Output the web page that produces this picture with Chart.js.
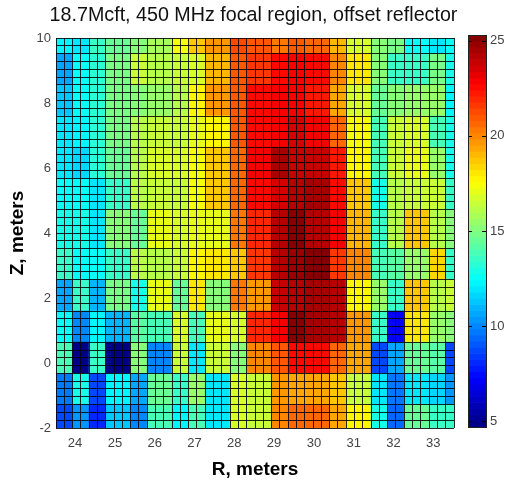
<!DOCTYPE html>
<html>
<head>
<meta charset="utf-8">
<title>focal region</title>
<script src="https://cdn.jsdelivr.net/npm/chart.js@4"></script>
<style>
  body { margin: 0; background: #fff; }
  canvas { position: absolute; top: 0; }
  #fieldChart { left: 0; }
  #barChart { left: 460px; }
</style>
</head>
<body>
<canvas id="fieldChart" width="507" height="482"></canvas>
<canvas id="barChart" width="47" height="482"></canvas>
<script>
const rTicks = [24, 25, 26, 27, 28, 29, 30, 31, 32, 33];
const zTicks = [-2, 0, 2, 4, 6, 8, 10];
const barTicks = [5, 10, 15, 20, 25];

// each z level, 21 samples along R
const valuesZ10 = [12.3, 11.9, 13.4, 14.6, 15.3, 15.9, 17.4, 18.7, 19.7, 21.2, 21, 20.3, 21, 20.6, 19, 16.8, 15, 14.7, 12.6, 11.8, 12.7];
const valuesZ9 = [10.5, 12.7, 13.2, 14.7, 16.6, 16.2, 16.4, 16.7, 19, 20.8, 21.5, 22.5, 23, 22.5, 20, 18, 15.2, 13.5, 13.4, 14.8, 13];
const valuesZ8 = [11.3, 12.5, 13.2, 14.7, 15.3, 15.5, 16.2, 17.6, 19.6, 21, 22.5, 23, 22.8, 22.4, 19.3, 16.7, 14.5, 15, 15.5, 15.5, 12.2];
const valuesZ7 = [12, 12.4, 13.3, 14.7, 16.2, 16.4, 16.5, 17, 17.8, 20.8, 22.7, 23, 23.5, 23, 20.6, 17.4, 14, 16.6, 16.8, 13.8, 13];
const valuesZ6 = [12.1, 11.6, 13.3, 14.5, 16.2, 16.7, 16.8, 17.3, 18.7, 20.6, 22.8, 24.5, 23.7, 24, 22.3, 17.6, 13.8, 16.6, 17.2, 15.5, 13];
const valuesZ5 = [12.6, 12.6, 12, 13.6, 16, 16.3, 16.5, 17.5, 18.8, 20.5, 22.6, 23.5, 24.2, 24.5, 22.7, 18.6, 13, 16, 16.5, 16.5, 13.5];
const valuesZ4 = [12.8, 13, 12, 15, 14.6, 17, 16.8, 17.2, 17, 20.2, 21.8, 24.3, 25.2, 24.3, 23, 19, 13.5, 16, 18.8, 16, 15];
const valuesZ3 = [13.5, 12.6, 12.6, 13.6, 16, 16.2, 16.6, 17.6, 18, 18.8, 21.5, 24.2, 24.8, 25.2, 21.6, 20, 13.8, 14.2, 15.6, 18.5, 13.6];
const valuesZ2 = [10.8, 13.6, 11, 14.8, 13, 17, 14.5, 18, 15, 20.2, 19.7, 24, 24.3, 24.4, 24.3, 17.7, 15.4, 13.6, 18.7, 16, 16.5];
const valuesZ1 = [12.6, 9.9, 12.4, 10.9, 14.3, 14, 16.9, 13.9, 17.2, 16.7, 22, 23, 25, 24.5, 24.2, 19.8, 13.6, 7.2, 18, 15.6, 15.3];
const valuesZ0 = [14, 4.9, 13.5, 4.9, 15.3, 9.9, 16.6, 12, 16.6, 15, 20, 20.8, 22.5, 22.6, 20.7, 19.5, 8.8, 10.5, 14.6, 14.2, 8.8];
const valuesZm1 = [9.6, 13, 8.7, 12.2, 10.8, 14.5, 13.5, 15.6, 12, 16.8, 16.6, 19.7, 19.3, 19.3, 18.7, 16.5, 12, 9.7, 11.8, 11.7, 10.4];
const valuesZm2 = [8.6, 10.3, 8.2, 11.3, 9.9, 13.8, 12.2, 14, 11.9, 16.7, 16.5, 20, 20.5, 20.5, 19.5, 17.6, 12.8, 9.5, 14.5, 13.7, 13.4];

// how many drawn cells each sample covers
const rRepeats = [2, 2, 2, 3, 2, 3, 2, 2, 3, 2, 3, 2, 2, 3, 2, 3, 2, 2, 3, 2, 1];
const zRepeats = [2, 4, 4, 4, 4, 4, 5, 4, 4, 4, 4, 4, 3];

const zLevels = [valuesZ10, valuesZ9, valuesZ8, valuesZ7, valuesZ6, valuesZ5, valuesZ4, valuesZ3, valuesZ2, valuesZ1, valuesZ0, valuesZm1, valuesZm2];

const rMin = 23.52;
const rMax = 33.52;
const zMin = -2;
const zMax = 10;
const colorMin = 4.7;
const colorMax = 25.3;
const colorLevels = 64;

const expand = (repeats) => repeats.flatMap((n, i) => Array(n).fill(i));
const rCells = expand(rRepeats);
const zCells = expand(zRepeats);
const rStep = (rMax - rMin) / rCells.length;
const zStep = (zMax - zMin) / zCells.length;
const rEdges = [...rCells, 0].map((_, i) => rMin + i * rStep);
const zEdges = [...zCells, 0].map((_, i) => zMax - i * zStep);

// matlab jet with 64 steps
function jet(value) {
  let level = Math.floor((value - colorMin) / (colorMax - colorMin) * colorLevels);
  level = Math.max(0, Math.min(colorLevels - 1, level));
  const t = (level + 0.5) / colorLevels;
  const part = (c) => Math.round(255 * Math.max(0, Math.min(1, 1.5 - Math.abs(4 * t - c))));
  return `rgb(${part(3)},${part(2)},${part(1)})`;
}

const cells = [];
const cellColors = [];
zCells.forEach((zIndex, row) => {
  rCells.forEach((rIndex, col) => {
    cells.push({ x: rMin + (col + 0.5) * rStep, y: [zEdges[row + 1], zEdges[row]] });
    cellColors.push(jet(zLevels[zIndex][rIndex]));
  });
});

const setTicks = (values) => (scale) => { scale.ticks = values.map(value => ({ value })); };
const tickColor = '#444';
const tickFont = { family: 'Liberation Sans', size: 13 };
const lineColor = 'rgba(0,0,0,0.85)';

const fieldChart = new Chart(document.getElementById('fieldChart'), {
  type: 'bar',
  data: {
    datasets: [{
      data: cells,
      backgroundColor: cellColors,
      barPercentage: 1,
      categoryPercentage: 1,
      grouped: false,
      borderWidth: 0
    }]
  },
  options: {
    responsive: false,
    animation: false,
    events: [],
    plugins: {
      legend: { display: false },
      tooltip: { enabled: false },
      title: {
        display: true,
        text: '18.7Mcft, 450 MHz focal region, offset reflector',
        color: '#111',
        font: { family: 'Liberation Sans', size: 19.7, weight: 'normal', lineHeight: 1.2 },
        padding: { top: 4, bottom: 10.36 }
      }
    },
    scales: {
      x: {
        type: 'linear',
        offset: false,
        min: rMin,
        max: rMax,
        afterBuildTicks: setTicks(rTicks),
        afterFit: (scale) => { scale.height = 54; },
        grid: { display: false, drawTicks: false, offset: false },
        border: { display: false },
        ticks: { color: tickColor, font: tickFont, padding: 8, maxRotation: 0, autoSkip: false },
        title: {
          display: true,
          text: 'R, meters',
          color: '#000',
          font: { family: 'Liberation Sans', size: 19, weight: 'bold' },
          padding: { top: 8, bottom: 1 }
        }
      },
      y: {
        min: zMin,
        max: zMax,
        afterBuildTicks: setTicks(zTicks),
        afterFit: (scale) => { scale.width = 56; },
        grid: { display: false, drawTicks: false },
        border: { display: false },
        ticks: { color: tickColor, font: tickFont, padding: 5, autoSkip: false },
        title: {
          display: true,
          text: 'Z, meters',
          color: '#000',
          font: { family: 'Liberation Sans', size: 19, weight: 'bold' },
          padding: { top: 6, bottom: 0 }
        }
      },
      xCells: {
        type: 'linear',
        position: 'bottom',
        offset: false,
        min: rMin,
        max: rMax,
        afterBuildTicks: setTicks(rEdges),
        afterFit: (scale) => { scale.height = 0; },
        grid: { color: lineColor, z: 1, drawTicks: false, offset: false },
        border: { display: false },
        ticks: { display: false, autoSkip: false }
      },
      // sits on the right so it also keeps the space for the colour bar
      yCells: {
        type: 'linear',
        position: 'right',
        min: zMin,
        max: zMax,
        afterBuildTicks: setTicks(zEdges),
        afterFit: (scale) => { scale.width = 53; },
        grid: { color: lineColor, z: 1, drawTicks: false },
        border: { display: false },
        ticks: { display: false, autoSkip: false }
      }
    }
  }
});

// colour bar
const barStep = (colorMax - colorMin) / colorLevels;
const barLevels = Array.from({ length: colorLevels }, (_, i) => colorMin + i * barStep);

const insideTicks = {
  id: 'insideTicks',
  afterDraw(chart) {
    const { ctx, chartArea, scales } = chart;
    ctx.save();
    ctx.strokeStyle = '#000';
    ctx.beginPath();
    scales.y.ticks.forEach((tick) => {
      const y = Math.round(scales.y.getPixelForValue(tick.value)) + 0.5;
      ctx.moveTo(chartArea.left, y);
      ctx.lineTo(chartArea.left + 4, y);
      ctx.moveTo(chartArea.right - 4, y);
      ctx.lineTo(chartArea.right, y);
    });
    ctx.stroke();
    ctx.strokeStyle = '#222';
    ctx.strokeRect(Math.round(chartArea.left) + 0.5, Math.round(chartArea.top) + 0.5, Math.round(chartArea.width), Math.round(chartArea.height));
    ctx.restore();
  }
};

const barChart = new Chart(document.getElementById('barChart'), {
  type: 'bar',
  data: {
    labels: barLevels.map(() => ''),
    datasets: [{
      data: barLevels.map(level => ({ x: 0.5, y: [level, level + barStep] })),
      backgroundColor: barLevels.map(level => jet(level + barStep / 2)),
      barThickness: 18,
      grouped: false,
      borderWidth: 0
    }]
  },
  plugins: [insideTicks],
  options: {
    responsive: false,
    animation: false,
    events: [],
    layout: { padding: { left: 8, top: 35, bottom: 55 } },
    plugins: { legend: { display: false }, tooltip: { enabled: false } },
    scales: {
      x: { type: 'linear', offset: false, min: 0, max: 1, display: false },
      y: {
        position: 'right',
        min: colorMin,
        max: colorMax,
        afterBuildTicks: setTicks(barTicks),
        afterFit: (scale) => { scale.width = 21; },
        grid: { display: false, drawTicks: false },
        border: { display: false },
        ticks: { color: tickColor, font: tickFont, padding: 4, autoSkip: false }
      }
    }
  }
});
</script>
</body>
</html>
